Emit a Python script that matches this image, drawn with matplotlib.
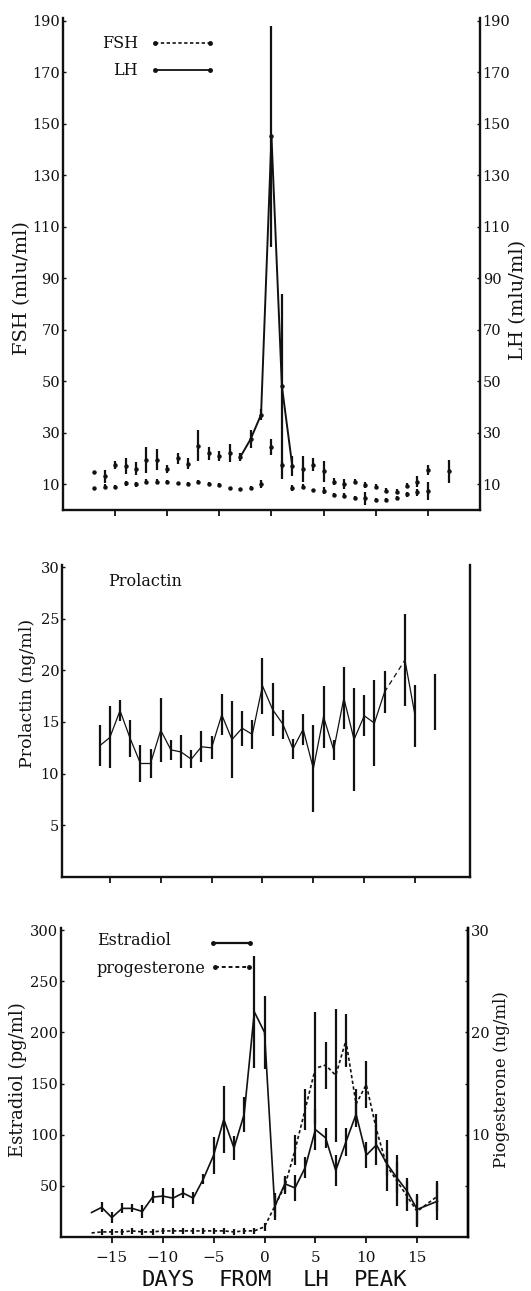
import matplotlib
matplotlib.use('Agg')
import matplotlib.pyplot as plt
import numpy as np

plt.rcParams['font.family'] = ['DejaVu Serif']

# ---------------- data ----------------
x_ticks = [-15, -10, -5, 0, 5, 10, 15]

# Top panel: FSH and LH (mIU/ml)
days_top = [-17, -16, -15, -14, -13, -12, -11, -10, -9, -8, -7, -6, -5, -4, -3, -2, -1,
            0, 1, 2, 3, 4, 5, 6, 7, 8, 9, 10, 11, 12, 13, 14, 15, 17]
lh_mean = [14.8, 13, 17.5, 17, 16, 19.5, 19.5, 16, 20, 18, 25, 22, 21, 22, 20.5, 27.5, 37,
           145, 48, 17, 16, 17.5, 15, 11, 10, 11, 9.6, 9, 7.5, 7, 9.4, 11, 15.5, 15]
lh_err = [0, 2.5, 1.5, 3, 2.5, 5, 4, 1.5, 2, 2, 6, 2.5, 2, 3.5, 1.5, 3.5, 2,
          43, 36, 4, 5, 2.5, 4, 1.5, 2, 1, 1.2, 1, 1, 1, 1, 2, 2, 4.5]
fsh_mean = [8.4, 9, 9, 10.3, 10, 10.9, 10.9, 10.9, 10.3, 10, 10.9, 10, 9.7, 8.4, 8, 8.7, 10,
            24.5, 17.5, 8.5, 9, 7.8, 7.5, 5.8, 5.5, 4.7, 4.5, 4, 4, 4.5, 6, 6.8, 7.5, np.nan]
fsh_err = [0, 1, 0.5, 1, 1, 1, 1, 0.7, 0.7, 0.7, 0.7, 0.7, 0.7, 0.7, 0.7, 0.7, 1.5,
           3, 1.5, 1, 1, 0.5, 1.5, 0.7, 1, 0.7, 2.5, 0.8, 0.8, 0.8, 1, 1.5, 3.5, 0]

# Middle panel: Prolactin (ng/ml)
days_prl = [-16, -15, -14, -13, -12, -11, -10, -9, -8, -7, -6, -5, -4, -3, -2, -1,
            0, 1, 2, 3, 4, 5, 6, 7, 8, 9, 10, 11, 12, 14, 15, 17]
prl_mean = [12.7, 13.5, 16.1, 13.4, 11.0, 11.0, 14.2, 12.3, 12.1, 11.4, 12.6, 12.5, 15.7, 13.3, 14.4, 13.8,
            18.5, 16.2, 14.8, 12.4, 14.3, 10.5, 15.5, 12.3, 17.3, 13.3, 15.6, 14.9, 17.9, 21.0, 15.6, 16.9]
prl_err = [2, 3, 1, 1.8, 1.8, 1.4, 3.1, 1, 1.6, 0.9, 1.5, 1.1, 2, 3.7, 1.7, 1.4,
           2.7, 2.6, 1.4, 1, 1.5, 4.2, 3, 1, 3, 5, 2, 4.2, 2, 4.5, 3, 2.7]

# Bottom panel: Estradiol (pg/ml) and progesterone (ng/ml)
days_bot = [-17, -16, -15, -14, -13, -12, -11, -10, -9, -8, -7, -6, -5, -4, -3, -2, -1,
            0, 1, 2, 3, 4, 5, 6, 7, 8, 9, 10, 11, 12, 13, 14, 15, 17]
e2_mean = [24, 29, 19, 28, 28, 25, 39, 40, 38, 43, 38, 57, 80, 115, 87, 120, 220,
           200, 30, 52, 48, 68, 105, 97, 65, 93, 120, 80, 90, 72, 58, 45, 27, 35]
e2_err = [0, 5, 5, 5, 4, 6, 6, 8, 10, 5, 6, 5, 18, 33, 12, 17, 55,
          36, 13, 8, 13, 10, 20, 10, 15, 14, 12, 13, 20, 12, 15, 13, 15, 18]
p4_mean = [0.4, 0.5, 0.5, 0.5, 0.6, 0.5, 0.5, 0.6, 0.6, 0.6, 0.6, 0.6, 0.6, 0.6, 0.5, 0.6, 0.6,
           1.0, 3.0, 5.0, 8.5, 12.5, 16.5, 16.8, 15.8, 19.2, 13.0, 14.9, 10.5, 7.0, 5.5, 4.0, 2.5, 4.0]
p4_err = [0, 0.3, 0.3, 0.3, 0.3, 0.3, 0.3, 0.3, 0.3, 0.3, 0.3, 0.3, 0.3, 0.3, 0.3, 0.3, 0.3,
          0.4, 1.0, 0.8, 1.5, 2.0, 5.5, 2.3, 6.5, 2.6, 1.5, 2.3, 1.5, 2.5, 2.5, 1.5, 1.5, 1.5]

# ---------------- figure ----------------
fig = plt.figure(figsize=(5.31, 12.91), dpi=100)
INK = '#111111'
TICK_FS = 10.5


def base_style(ax, right_spine=True):
    ax.spines['top'].set_visible(False)
    for s in ['left', 'right', 'bottom']:
        ax.spines[s].set_linewidth(1.7)
        ax.spines[s].set_color(INK)
    ax.spines['right'].set_visible(right_spine)
    ax.set_xticks(x_ticks)
    ax.tick_params(axis='x', direction='out', length=4, width=1.3, labelbottom=False, colors=INK)
    ax.tick_params(axis='y', direction='in', length=2, width=1, pad=2, labelsize=TICK_FS, colors=INK)
    ax.set_facecolor('none')


# ---- top panel ----
ax1 = fig.add_axes([0.1186, 0.6050, 0.7853, 0.3811])
base_style(ax1)
d = np.array(days_top)
lh = np.array(lh_mean)
fsh = np.array(fsh_mean)
ax1.errorbar(d, lh, yerr=lh_err, fmt='none', ecolor=INK, elinewidth=1.6, capsize=0)
ax1.errorbar(d, fsh, yerr=fsh_err, fmt='none', ecolor=INK, elinewidth=1.6, capsize=0)
ax1.plot(d, lh, ls='none', marker='o', ms=2.2, color=INK)
ax1.plot(d, fsh, ls='none', marker='o', ms=2.2, color=INK)
surge = (d >= -3) & (d <= 2)
ax1.plot(d[surge], lh[surge], color=INK, lw=1.4)
ax1.set_xlim(-20, 20)
ax1.set_ylim(0, 191)
ax1.set_yticks(list(range(10, 191, 20)))
ax1.tick_params(axis='y', right=True, labelright=True)
# legend
ax1.text(0.18, 0.949, 'FSH', transform=ax1.transAxes, ha='right', va='center', fontsize=11.5, color=INK)
ax1.text(0.18, 0.894, 'LH', transform=ax1.transAxes, ha='right', va='center', fontsize=11.5, color=INK)
ax1.plot([0.22, 0.353], [0.949, 0.949], transform=ax1.transAxes, color=INK, lw=1.2, ls=(0, (2, 1.5)),
         marker='o', ms=2.5, clip_on=False)
ax1.plot([0.22, 0.353], [0.894, 0.894], transform=ax1.transAxes, color=INK, lw=1.3,
         marker='o', ms=2.5, clip_on=False)

# ---- middle panel ----
ax2 = fig.add_axes([0.1168, 0.3207, 0.7684, 0.2417])
base_style(ax2)
dp = np.array(days_prl)
pm = np.array(prl_mean)
ax2.errorbar(dp, pm, yerr=prl_err, fmt='none', ecolor=INK, elinewidth=1.6, capsize=0)
for i in range(len(dp) - 1):
    gap = dp[i + 1] - dp[i]
    if gap == 1:
        ax2.plot(dp[i:i + 2], pm[i:i + 2], color=INK, lw=0.9)
    elif gap == 2 and dp[i] < 13:
        ax2.plot(dp[i:i + 2], pm[i:i + 2], color=INK, lw=0.9, ls=(0, (4, 3)))
ax2.set_xlim(-19.7, 20.4)
ax2.set_ylim(0, 30.2)
ax2.set_yticks([5, 10, 15, 20, 25, 30])
ax2.tick_params(axis='y', right=False)
ax2.text(0.113, 0.948, 'Prolactin', transform=ax2.transAxes, ha='left', va='center', fontsize=11.5, color=INK)

# ---- bottom panel ----
ax3 = fig.add_axes([0.1149, 0.0418, 0.7665, 0.2394])
base_style(ax3)
db = np.array(days_bot)
e2 = np.array(e2_mean)
ax3.errorbar(db, e2, yerr=e2_err, fmt='none', ecolor=INK, elinewidth=1.6, capsize=0)
ax3.plot(db, e2, color=INK, lw=1.2)
ax3.set_xlim(-20, 20)
ax3.set_ylim(0, 302)
ax3.set_yticks([50, 100, 150, 200, 250, 300])
ax3.tick_params(axis='x', labelbottom=True, labelsize=11, pad=6)
ax3.set_xticklabels(['\u221215', '\u221210', '\u22125', '0', '5', '10', '15'])

ax4 = ax3.twinx()
ax4.set_position([0.1149, 0.0418, 0.7665, 0.2394])
for s in ['top', 'left', 'bottom']:
    ax4.spines[s].set_visible(False)
ax4.spines['right'].set_linewidth(1.7)
ax4.errorbar(db, p4_mean, yerr=p4_err, fmt='none', ecolor=INK, elinewidth=1.6, capsize=0)
ax4.plot(db, p4_mean, color=INK, lw=1.2, ls=(0, (2, 1.5)))
ax4.set_ylim(0, 30.2)
ax4.set_yticks([10, 20, 30])
ax4.set_yticks([5, 15, 25], minor=True)
ax4.tick_params(axis='y', which='both', direction='in', length=2, width=1, pad=2, labelsize=TICK_FS, colors=INK)
ax4.set_xlim(-20, 20)

ax3.text(0.088, 0.961, 'Estradiol', transform=ax3.transAxes, ha='left', va='center', fontsize=11.5, color=INK)
ax3.text(0.088, 0.870, 'progesterone', transform=ax3.transAxes, ha='left', va='center', fontsize=11.5, color=INK)
ax3.plot([0.373, 0.464], [0.951, 0.951], transform=ax3.transAxes, color=INK, lw=1.6,
         marker='o', ms=2.5, clip_on=False)
ax3.plot([0.378, 0.462], [0.873, 0.873], transform=ax3.transAxes, color=INK, lw=1.4, ls=(0, (2, 1.5)),
         marker='o', ms=2.5, clip_on=False)

# ---- axis titles ----
fig.text(0.041, 0.777, 'FSH (mlu/ml)', rotation=90, ha='center', va='center', fontsize=14, color=INK)
fig.text(0.9765, 0.768, 'LH (mlu/ml)', rotation=90, ha='center', va='center', fontsize=14, color=INK)
fig.text(0.052, 0.4632, 'Prolactin (ng/ml)', rotation=90, ha='center', va='center', fontsize=12.5, color=INK)
fig.text(0.033, 0.1634, 'Estradiol (pg/ml)', rotation=90, ha='center', va='center', fontsize=13, color=INK)
fig.text(0.945, 0.1634, 'Piogesterone (ng/ml)', rotation=90, ha='center', va='center', fontsize=12, color=INK)

for word, xc in [('DAYS', 0.317), ('FROM', 0.461), ('LH', 0.595), ('PEAK', 0.717)]:
    fig.text(xc, 0.0085, word, ha='center', va='center', fontsize=16,
             family='DejaVu Sans Mono', color=INK)

fig.savefig('out.png', dpi=100, facecolor='white')
